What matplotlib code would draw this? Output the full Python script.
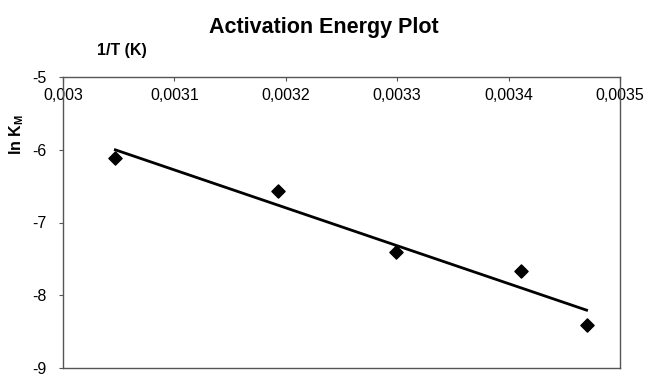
import numpy as np
import matplotlib
matplotlib.use("Agg")
import matplotlib.pyplot as plt
from matplotlib.ticker import FuncFormatter

plt.rcParams['font.family'] = ['Liberation Sans', 'DejaVu Sans']
plt.rcParams['axes.unicode_minus'] = False

# data
inv_T = [0.003047, 0.003193, 0.003299, 0.003411, 0.003470]
ln_Km = [-6.12, -6.57, -7.41, -7.67, -8.41]

x_ticks = [0.003, 0.0031, 0.0032, 0.0033, 0.0034, 0.0035]
y_ticks = [-5, -6, -7, -8, -9]

# linear trend line
slope, intercept = np.polyfit(inv_T, ln_Km, 1)
xfit = np.array([min(inv_T), max(inv_T)])
yfit = slope * xfit + intercept

fig = plt.figure(figsize=(6.47, 3.74), dpi=100)
ax = fig.add_axes([63/647, 6/374, 557/647, 291/374])

ax.plot(xfit, yfit, color='black', lw=2)
ax.scatter(inv_T, ln_Km, marker='D', s=45, color='black', zorder=3)

ax.set_xlim(0.003, 0.0035)
ax.set_ylim(-9, -5)
ax.set_xticks(x_ticks)
ax.set_yticks(y_ticks)

# comma as decimal separator
ax.xaxis.set_major_formatter(FuncFormatter(lambda v, p: ('%g' % v).replace('.', ',')))

# x axis sits on top, labels just under the top line (Excel style)
ax.xaxis.set_ticks_position('top')
ax.tick_params(axis='x', direction='in', length=3, pad=-19, labelsize=11.5,
               color='#555555')
ax.tick_params(axis='y', direction='out', length=3, pad=9, labelsize=11.5,
               color='#555555')

for s in ax.spines.values():
    s.set_color('#555555')
    s.set_linewidth(1)

fig.text(323.5, 374 - 33, 'Activation Energy Plot', transform=None,
         ha='center', va='baseline', fontsize=15.5, fontweight='bold')
fig.text(122, 374 - 51, '1/T (K)', transform=None,
         ha='center', va='center', fontsize=11.5, fontweight='bold')
fig.text(17, 374 - 135, r'ln K$_\mathregular{M}$', transform=None,
         ha='center', va='center', fontsize=11.5, fontweight='bold', rotation=90)

fig.savefig('out.png', dpi=100)
